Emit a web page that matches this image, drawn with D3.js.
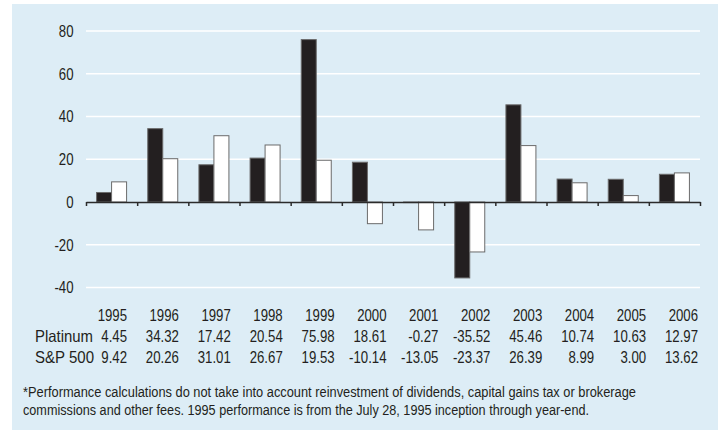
<!DOCTYPE html>
<html>
<head>
<meta charset="utf-8">
<script src="https://cdn.jsdelivr.net/npm/d3@7"></script>
<style>
  html, body { margin: 0; padding: 0; background: #ffffff; }
  svg { display: block; }
  text { font-family: "Liberation Sans", Arial, sans-serif; fill: #231f20; }
</style>
</head>
<body>
<svg id="chart" width="718" height="430"></svg>
<script>
// ---- data ----
const years = ["1995","1996","1997","1998","1999","2000","2001","2002","2003","2004","2005","2006"];
const seriesNames = ["Platinum", "S&P 500"];
const platinum = [4.45, 34.32, 17.42, 20.54, 75.98, 18.61, -0.27, -35.52, 45.46, 10.74, 10.63, 12.97];
const sp500 = [9.42, 20.26, 31.01, 26.67, 19.53, -10.14, -13.05, -23.37, 26.39, 8.99, 3.00, 13.62];
const yTicks = [-40, -20, 0, 20, 40, 60, 80];
const footnoteLines = [
  "*Performance calculations do not take into account reinvestment of dividends, capital gains tax or brokerage",
  "commissions and other fees. 1995 performance is from the July 28, 1995 inception through year-end."
];

const svg = d3.select("#chart");
const W = 718, H = 430;
const FS = 16.5;
const NARROW = 0.8;

// condense text horizontally (narrow typeface look)
function condense(sel, k) {
  sel.each(function () {
    const w = this.getComputedTextLength();
    d3.select(this).attr("textLength", w * k).attr("lengthAdjust", "spacingAndGlyphs");
  });
}

// panel background
svg.append("rect").attr("x", 12).attr("y", 4).attr("width", W - 12).attr("height", H - 4).attr("fill", "#ddedf6");

// scales
const x = d3.scaleBand().domain(years).range([86, 700]).paddingInner(0).paddingOuter(0);
const pairW = 30;
const x1 = d3.scaleBand().domain(seriesNames).range([0, pairW]);
const y = d3.scaleLinear().domain([-40, 80]).range([287.5, 31]);

// gridlines
svg.append("g").selectAll("line")
  .data(yTicks.filter(d => d !== 0))
  .join("line")
  .attr("x1", 86).attr("x2", 700)
  .attr("y1", d => y(d)).attr("y2", d => y(d))
  .attr("stroke", "#ffffff").attr("stroke-width", 1.5);

// y axis labels
const yAxis = svg.append("g").attr("transform", "translate(73.5,0)")
  .call(d3.axisLeft(y).tickValues(yTicks).tickSize(0).tickPadding(0).tickFormat(d => String(d)));
yAxis.select(".domain").remove();
yAxis.selectAll("text").attr("font-size", FS).attr("fill", "#231f20")
  .style("font-family", '"Liberation Sans", Arial, sans-serif');
condense(yAxis.selectAll("text"), NARROW);

// bars
const rows = years.map((yr, i) => ({ year: yr, vals: [
  { name: seriesNames[0], v: platinum[i] },
  { name: seriesNames[1], v: sp500[i] }
]}));
const groups = svg.append("g").selectAll("g")
  .data(rows).join("g")
  .attr("transform", d => `translate(${x(d.year) + x.bandwidth() / 2 - pairW / 2},0)`);
groups.selectAll("rect")
  .data(d => d.vals).join("rect")
  .attr("x", d => x1(d.name))
  .attr("width", x1.bandwidth())
  .attr("y", d => y(Math.max(0, d.v)))
  .attr("height", d => Math.abs(y(d.v) - y(0)))
  .attr("fill", d => d.name === seriesNames[0] ? "#231f20" : "#ffffff")
  .attr("stroke", "#6b6b6b").attr("stroke-width", 1);

// x axis line with ticks at band boundaries
const xb = d3.scaleLinear().domain([0, years.length]).range([86, 700]);
const xAxis = svg.append("g").attr("transform", `translate(0,${y(0)})`)
  .call(d3.axisBottom(xb).tickValues(d3.range(years.length + 1)).tickSize(4).tickSizeOuter(0).tickFormat(""));
xAxis.select(".domain").attr("stroke", "#2b2b2b").attr("stroke-width", 1.5);
xAxis.selectAll(".tick line").attr("stroke", "#2b2b2b").attr("stroke-width", 1.5);

// data table
const tx = d3.scalePoint().domain(years).range([127, 698]);
const table = svg.append("g").attr("font-size", FS);
table.selectAll("text.yr").data(years).join("text").attr("class", "yr")
  .attr("x", d => tx(d)).attr("y", 321).attr("text-anchor", "end").text(d => d);
table.selectAll("text.p").data(platinum).join("text").attr("class", "p")
  .attr("x", (d, i) => tx(years[i])).attr("y", 342).attr("text-anchor", "end").text(d => d.toFixed(2));
table.selectAll("text.s").data(sp500).join("text").attr("class", "s")
  .attr("x", (d, i) => tx(years[i])).attr("y", 363).attr("text-anchor", "end").text(d => d.toFixed(2));
condense(table.selectAll("text"), NARROW);
table.append("text").attr("x", 35).attr("y", 342).text(seriesNames[0])
  .attr("textLength", 58).attr("lengthAdjust", "spacingAndGlyphs");
table.append("text").attr("x", 35).attr("y", 363).text(seriesNames[1])
  .attr("textLength", 59).attr("lengthAdjust", "spacingAndGlyphs");

// footnote
const footLen = [613, 566];
svg.append("g").attr("font-size", 14).selectAll("text").data(footnoteLines).join("text")
  .attr("x", 23).attr("y", (d, i) => 397 + i * 17.5).text(d => d)
  .attr("textLength", (d, i) => footLen[i]).attr("lengthAdjust", "spacingAndGlyphs");
</script>
</body>
</html>
